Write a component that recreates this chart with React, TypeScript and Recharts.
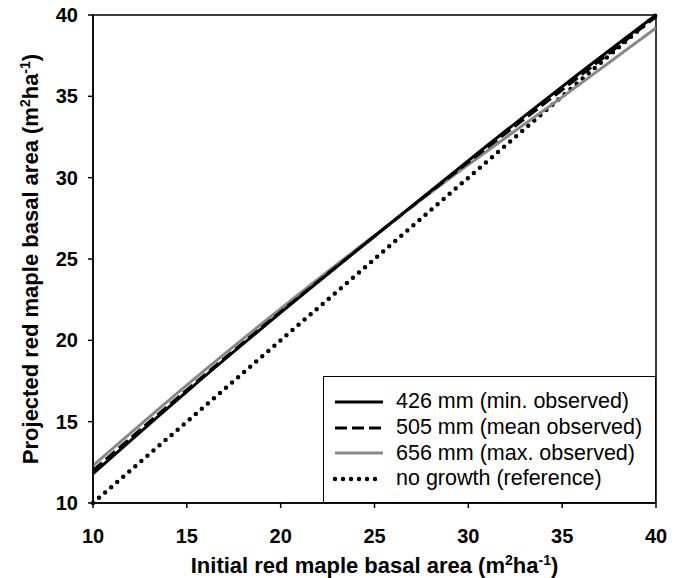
import React from "react";
import {
  Legend,
  Line,
  LineChart,
  ReferenceArea,
  XAxis,
  YAxis,
} from "recharts";

const initialBA = [10, 15, 20, 25, 30, 35, 40];
const min426 = [11.8, 16.85, 21.7, 26.4, 31.05, 35.6, 40.0];
const mean505 = [12.0, 16.95, 21.75, 26.4, 30.95, 35.4, 39.9];
const max656 = [12.3, 17.25, 21.95, 26.45, 30.8, 34.95, 39.2];
const noGrowth = [10, 15, 20, 25, 30, 35, 40];
const ticks = [10, 15, 20, 25, 30, 35, 40];

const seriesNames = [
  "426 mm (min. observed)",
  "505 mm (mean observed)",
  "656 mm (max. observed)",
  "no growth (reference)",
];

const rows = initialBA.map((x, i) => ({
  x,
  min: min426[i],
  mean: mean505[i],
  max: max656[i],
  ref: noGrowth[i],
}));

const FONT = '"Liberation Sans", Arial, sans-serif';

const legendStyles = [
  { stroke: "#000", dash: undefined, cap: "butt" as const, w: 3 },
  { stroke: "#000", dash: "12 5", cap: "butt" as const, w: 3 },
  { stroke: "#888", dash: undefined, cap: "butt" as const, w: 3 },
  { stroke: "#000", dash: "0 8", cap: "round" as const, w: 4.5 },
];

const LegendBox = () => (
  <div
    style={{
      boxSizing: "border-box",
      width: 333,
      height: 127,
      border: "1.5px solid #000",
      background: "#fff",
      paddingTop: 12,
      fontFamily: FONT,
      fontSize: 21.5,
      color: "#000",
      whiteSpace: "nowrap",
    }}
  >
    {seriesNames.map((name, i) => (
      <div
        key={name}
        style={{ display: "flex", alignItems: "center", height: 25.7 }}
      >
        <svg width={64} height={12} style={{ marginLeft: 8, flexShrink: 0 }}>
          <line
            x1={3}
            x2={51}
            y1={6}
            y2={6}
            stroke={legendStyles[i].stroke}
            strokeWidth={legendStyles[i].w}
            strokeDasharray={legendStyles[i].dash}
            strokeLinecap={legendStyles[i].cap}
          />
        </svg>
        <span>{name}</span>
      </div>
    ))}
  </div>
);

const XTitle = (props: any) => {
  const { viewBox } = props;
  const cx = viewBox.x + viewBox.width / 2;
  return (
    <text
      x={cx}
      y={viewBox.y + 70}
      textAnchor="middle"
      fontFamily={FONT}
      fontWeight="bold"
      fontSize={22}
      fill="#000"
    >
      Initial red maple basal area (m
      <tspan dy={-8} fontSize={14}>2</tspan>
      <tspan dy={8}>ha</tspan>
      <tspan dy={-8} fontSize={14}>-1</tspan>
      <tspan dy={8}>)</tspan>
    </text>
  );
};

const YTitle = (props: any) => {
  const { viewBox } = props;
  const cy = viewBox.y + viewBox.height / 2;
  const cx = 38;
  return (
    <text
      x={cx}
      y={cy}
      transform={`rotate(-90 ${cx} ${cy})`}
      textAnchor="middle"
      fontFamily={FONT}
      fontWeight="bold"
      fontSize={22}
      fill="#000"
    >
      Projected red maple basal area (m
      <tspan dy={-8} fontSize={14}>2</tspan>
      <tspan dy={8}>ha</tspan>
      <tspan dy={-8} fontSize={14}>-1</tspan>
      <tspan dy={8}>)</tspan>
    </text>
  );
};

const tickStyle = {
  fontFamily: FONT,
  fontWeight: "bold",
  fontSize: 20,
  fill: "#000",
};

export default function App() {
  return (
    <div
      style={{
        position: "absolute",
        left: 0,
        top: 0,
        width: 676,
        height: 578,
        background: "#fff",
      }}
    >
      <LineChart
        width={676}
        height={578}
        data={rows}
        margin={{ top: 15, right: 20, left: 0, bottom: 0 }}
      >
        <XAxis
          dataKey="x"
          type="number"
          domain={[10, 40]}
          ticks={ticks}
          height={75}
          tick={tickStyle}
          tickSize={5}
          tickMargin={21}
          axisLine={{ stroke: "#000", strokeWidth: 1.5 }}
          tickLine={{ stroke: "#000", strokeWidth: 1.5 }}
          label={<XTitle />}
        />
        <YAxis
          type="number"
          domain={[10, 40]}
          ticks={ticks}
          width={93}
          tick={tickStyle}
          tickSize={5}
          tickMargin={10}
          axisLine={{ stroke: "#000", strokeWidth: 1.5 }}
          tickLine={{ stroke: "#000", strokeWidth: 1.5 }}
          label={<YTitle />}
        />
        <ReferenceArea
          x1={10}
          x2={40}
          y1={10}
          y2={40}
          fill="none"
          stroke="#000"
          strokeWidth={1.5}
          ifOverflow="visible"
        />
        <Line
          dataKey="ref"
          type="monotone"
          stroke="#000"
          strokeWidth={4.5}
          strokeDasharray="0 8"
          strokeLinecap="round"
          dot={false}
          isAnimationActive={false}
        />
        <Line
          dataKey="max"
          type="monotone"
          stroke="#888"
          strokeWidth={3}
          dot={false}
          isAnimationActive={false}
        />
        <Line
          dataKey="min"
          type="monotone"
          stroke="#000"
          strokeWidth={3}
          dot={false}
          isAnimationActive={false}
        />
        <Line
          dataKey="mean"
          type="monotone"
          stroke="#000"
          strokeWidth={3}
          strokeDasharray="12 5"
          dot={false}
          isAnimationActive={false}
        />
        <Legend
          layout="vertical"
          align="center"
          verticalAlign="middle"
          content={() => <LegendBox />}
          wrapperStyle={{
            position: "absolute",
            left: 323,
            top: 376,
            width: 333,
            height: 127,
          }}
        />
      </LineChart>
    </div>
  );
}
